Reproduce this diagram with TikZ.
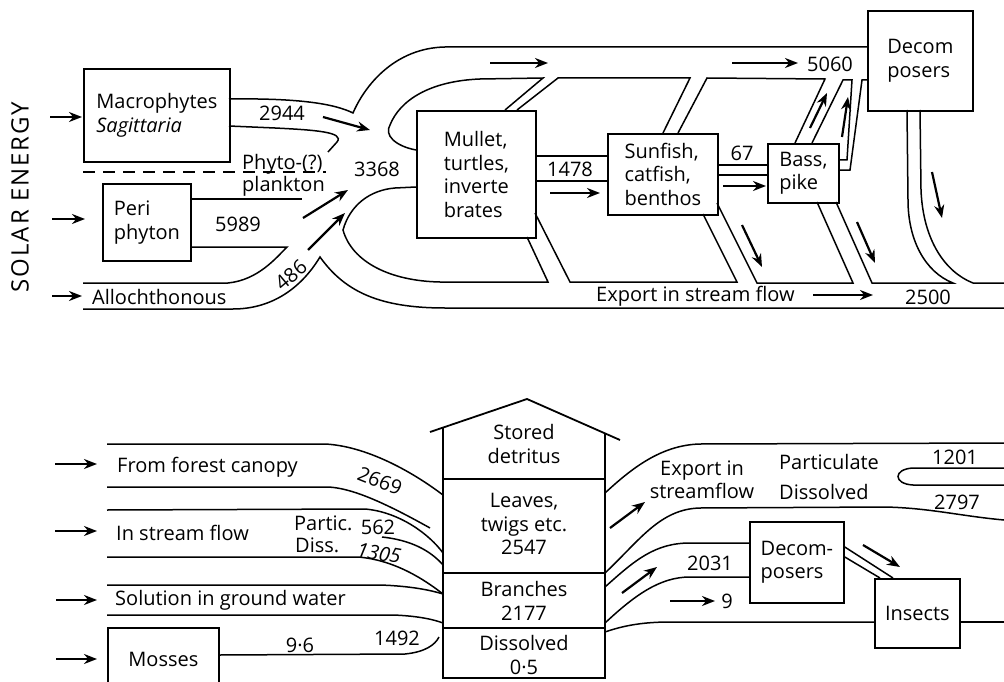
\documentclass[tikz,border=0pt]{standalone}
\usepackage{fontspec}
\setmainfont{Open Sans}
\usetikzlibrary{arrows.meta,positioning}
\tikzset{
  cbox/.style={draw, line width=1.8pt, anchor=north west, align=left, inner sep=2pt},
  chan/.style={line width=1.5pt},
  dchan/.style={chan, dash pattern=on 12pt off 8pt},
  farrow/.style={-{Stealth[length=13pt,width=10pt]}, line width=2.2pt},
  lbl/.style={inner sep=1pt},
  lbll/.style={lbl, anchor=west},
}

\begin{document}
\begin{tikzpicture}[x=1pt, y=-1pt, font=\fontsize{20}{23.5}\selectfont]
  \useasboundingbox (0,0) rectangle (1004,682);

  % upper diagram: Silver Springs
  \node (solar) [lbl, rotate=90, font=\fontsize{24}{28}\selectfont\addfontfeatures{LetterSpace=8}] at (20,197) {SOLAR ENERGY};
  \node (macro) [cbox, minimum width=146pt, minimum height=93pt] at (83,68) {Macrophytes\\\textit{Sagittaria}};
  \node (peri) [cbox, minimum width=88pt, minimum height=77pt] at (102,183) {Peri\\phyton};
  \node (mullet) [cbox, minimum width=119pt, minimum height=127pt] at (416,110) {Mullet,\\turtles,\\inverte\\brates};
  \node (sunfish) [cbox, minimum width=110pt, minimum height=81pt] at (607,133) {Sunfish,\\catfish,\\benthos};
  \node (bass) [cbox, minimum width=71pt, minimum height=59pt] at (767,143) {Bass,\\pike};
  \node (decomp) [cbox, minimum width=105pt, minimum height=100pt] at (867,10) {Decom\\posers};

  \coordinate (s1) at (50,117);  \coordinate (s1e) at (82,117);
  \coordinate (s2) at (52,219);  \coordinate (s2e) at (85,219);
  \coordinate (s3) at (52,296);  \coordinate (s3e) at (82,296);
  \draw[farrow] (s1) -- (s1e);
  \draw[farrow] (s2) -- (s2e);
  \draw[farrow] (s3) -- (s3e);

  \draw[chan] (229,99) .. controls (300,98) and (335,104) .. (353,113)
    .. controls (365,85) and (395,48) .. (445,47) -- (867,47);
  \draw[chan] (229,126) -- (275,128) .. controls (315,130) and (345,132) .. (337,142) -- (328,152);
  \draw[dchan] (83,172) -- (326,172);
  \draw[chan] (190,199) -- (302,199);
  \draw[chan] (190,247) -- (287,247) .. controls (276,258) and (258,280) .. (228,283) -- (83,283);
  \draw[chan] (83,309) -- (233,309) .. controls (270,309) and (300,290) .. (320,257)
    .. controls (345,292) and (380,308) .. (445,308) -- (1004,308);
  \draw[chan] (416,187) -- (395,188) .. controls (370,190) and (350,205) .. (343,230)
    .. controls (352,262) and (390,281) .. (440,282) -- (548,282) -- (527,237);
  \draw[chan] (416,150) .. controls (395,146) and (384,135) .. (390,125)
    .. controls (400,100) and (430,81) .. (480,79) -- (543,78) -- (505,110);
  \draw[chan] (517,110) -- (558,78) -- (690,78) -- (663,133);
  \draw[chan] (678,133) -- (707,78) -- (825,79) -- (795,143);
  \draw[chan] (812,143) -- (843,80) -- (852,80) -- (847,160) -- (838,160);
  \draw[chan] (838,170) -- (850,170) -- (862,80) -- (867,80);
  \draw[chan] (535,156) -- (607,156);
  \draw[chan] (535,181) -- (607,181);
  \draw[chan] (717,165) -- (767,165);
  \draw[chan] (717,175) -- (767,175);
  \draw[chan] (535,213) -- (570,282) -- (737,282) -- (703,214);
  \draw[chan] (717,203) -- (757,283) -- (853,283) -- (817,202);
  \draw[chan] (836,202) -- (872,283) -- (953,283) .. controls (925,272) and (908,240) .. (908,200) -- (907,110);
  \draw[chan] (920,110) -- (921,190) .. controls (923,240) and (945,272) .. (973,283) -- (1004,283);

  \draw[farrow] (323,117) -- (370,130);
  \draw[farrow] (303,218) -- (348,190);
  \draw[farrow] (308,250) -- (345,213);
  \draw[farrow] (490,63) -- (548,63);
  \draw[farrow] (732,63) -- (798,63);
  \draw[farrow] (550,193) -- (600,193);
  \draw[farrow] (723,186) -- (766,186);
  \draw[farrow] (810,128) -- (827,93);
  \draw[farrow] (842,137) -- (848,97);
  \draw[farrow] (742,225) -- (762,267);
  \draw[farrow] (857,222) -- (875,263);
  \draw[farrow] (932,172) -- (942,218);
  \draw[farrow] (813,295) -- (873,295);

  \node (v2944) [lbl] at (282,113) {2944};
  \node (phyto) [lbll] at (241,164) {Phyto-(?)};
  \node (plank) [lbll] at (241,186) {plankton};
  \node (v5989) [lbl] at (238,224) {5989};
  \node (v486) [lbl, rotate=40] at (291,275) {486};
  \node (allo) [lbll] at (91,297) {Allochthonous};
  \node (v3368) [lbl] at (377,169) {3368};
  \node (v1478) [lbl] at (570,169) {1478};
  \node (v67) [lbl] at (742,153) {67};
  \node (v5060) [lbl] at (830,64) {5060};
  \node (export) [lbll] at (595,296) {Export in stream flow};
  \node (v2500) [lbl] at (928,297) {2500};

  % lower diagram: forest stream
  \coordinate (i1) at (55,464);  \coordinate (i1e) at (97,464);
  \coordinate (i2) at (55,531);  \coordinate (i2e) at (97,531);
  \coordinate (i3) at (56,600);  \coordinate (i3e) at (97,600);
  \coordinate (i4) at (56,659);  \coordinate (i4e) at (97,659);
  \draw[farrow] (i1) -- (i1e);
  \draw[farrow] (i2) -- (i2e);
  \draw[farrow] (i3) -- (i3e);
  \draw[farrow] (i4) -- (i4e);

  \node (mosses) [cbox, minimum width=111pt, minimum height=63pt] at (107,627) {Mosses};
  \node (forest) [lbll] at (116,467) {From forest canopy};
  \node (instream) [lbll] at (115,533) {In stream flow};
  \node (ground) [lbll] at (114,600) {Solution in ground water};
  \node (partic) [lbll] at (293,523) {Partic.};
  \node (v562) [lbl] at (378,527) {562};
  \node (diss) [lbll] at (294,545) {Diss.};
  \node (v1305) [lbl, rotate=-10] at (379,553) {\textit{1305}};
  \node (v2669) [lbl, rotate=-22] at (380,481) {2669};
  \node (v96) [lbl] at (300,645) {9·6};
  \node (v1492) [lbl] at (397,638) {1492};

  \draw[chan] (107,444) -- (325,444) .. controls (365,446) and (410,470) .. (443,495);
  \draw[chan] (107,487) -- (328,487) .. controls (350,488) and (380,500) .. (430,528);
  \draw[chan] (107,510) -- (365,509) .. controls (400,512) and (430,535) .. (443,553);
  \draw[chan] (382,537) .. controls (410,540) and (430,550) .. (443,565);
  \draw[chan] (107,557) -- (358,557) .. controls (395,560) and (425,580) .. (443,594);
  \draw[chan] (107,585) -- (380,585) .. controls (410,586) and (430,590) .. (443,594);
  \draw[chan] (107,615) -- (393,615) .. controls (420,616) and (435,620) .. (443,623);
  \draw[chan] (mosses.east |- 0,655) -- (405,654) .. controls (425,652) and (435,645) .. (439,637);

  % stored detritus house
  \draw[line width=1.8pt] (443,427) -- (443,678) -- (605,678) -- (605,433);
  \draw[line width=1.8pt] (430,432) -- (527,399) -- (620,440);
  \draw[chan] (443,479) -- (605,479);
  \draw[chan] (443,573) -- (605,573);
  \draw[chan] (443,628) -- (605,628);
  \node (stored) [lbl, align=center] at (524,444) {Stored\\detritus};
  \node (leaves) [lbl, align=center] at (524,524) {Leaves,\\twigs etc.\\2547};
  \node (branch) [lbl, align=center] at (524,601) {Branches\\2177};
  \node (dissol) [lbl, align=center] at (524,655) {Dissolved\\0·5};

  \node (decomp2) [cbox, minimum width=94pt, minimum height=81pt] at (749,521) {Decom-\\posers};
  \node (insects) [cbox, minimum width=85pt, minimum height=69pt] at (874,578) {Insects};

  \draw[chan] (605,493) .. controls (630,470) and (660,445) .. (700,444) -- (1004,443);
  \draw[chan] (605,573) .. controls (640,540) and (660,509) .. (700,508) -- (885,507)
    .. controls (930,508) and (960,516) .. (1004,520);
  \draw[chan] (1004,468) -- (913,468) .. controls (893,469) and (893,484) .. (913,485) -- (1004,485);
  \draw[chan] (605,587) .. controls (635,560) and (655,543) .. (690,543) -- (decomp2.west |- 0,543);
  \draw[chan] (605,623) .. controls (635,595) and (660,577) .. (690,577) -- (decomp2.west |- 0,577);
  \draw[chan] (605,632) .. controls (625,625) and (645,622) .. (670,622) -- (insects.west |- 0,622);
  \draw[chan] (insects.east |- 0,622) -- (1004,622);
  \draw[chan] (decomp2.east |- 0,547) -- (893,578);
  \draw[chan] (decomp2.east |- 0,557) -- (880,578);

  \draw[farrow] (610,528) -- (645,502);
  \draw[farrow] (622,593) -- (657,567);
  \draw[farrow] (670,601) -- (715,601);
  \draw[farrow] (863,545) -- (900,567);

  \node (exp2) [lbl, align=center] at (702,480) {Export in\\streamflow};
  \node (partl) [lbll] at (778,462) {Particulate};
  \node (dissl) [lbll] at (778,492) {Dissolved};
  \node (v1201) [lbl] at (955,457) {1201};
  \node (v2797) [lbl] at (957,502) {2797};
  \node (v2031) [lbl] at (710,563) {2031};
  \node (v9) [lbl] at (727,601) {9};
\end{tikzpicture}
\end{document}
